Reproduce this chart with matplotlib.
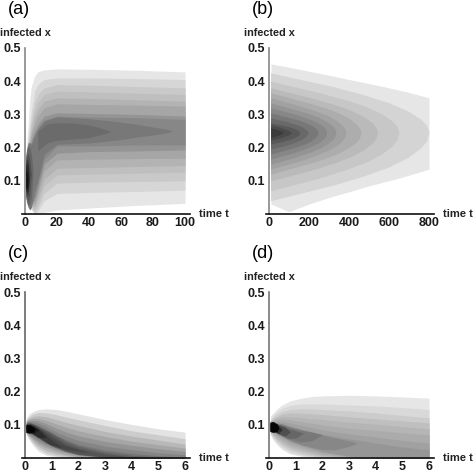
import matplotlib

matplotlib.use("Agg")
from matplotlib import pyplot as plt

plt.rcParams["font.family"] = ["Liberation Sans", "DejaVu Sans"]

SIZE = 473

# panel (a): time, band tops, band bottoms, grey level of each band
T_A = [0.5, 1, 2, 3, 4, 6, 8, 12, 20, 40, 70, 100]
UP_A = [
    [.17, .21, .27, .345, .385, .415, .428, .434, .437, .436, .433, .428],
    [.16, .19, .23, .27, .31, .37, .39, .405, .41, .41, .408, .405],
    [.155, .18, .215, .25, .285, .335, .36, .38, .39, .388, .384, .38],
    [.15, .175, .205, .235, .265, .31, .335, .36, .37, .368, .364, .36],
    [.145, .17, .20, .225, .25, .29, .315, .34, .35, .348, .344, .34],
    [.14, .165, .195, .215, .24, .27, .295, .32, .332, .33, .328, .325],
    [.135, .16, .19, .205, .225, .25, .27, .295, .305, .303, .30, .295],
    [.13, .155, .185, .20, .215, .24, .26, .283, .295, .292, .29, .285],
]
LO_A = [
    [.08, .06, .04, .025, .012, 0, 0, .005, .012, .018, .026, .032],
    [.09, .07, .05, .03, .015, 0, .008, .04, .062, .065, .068, .072],
    [.095, .08, .06, .035, .02, .005, .018, .062, .093, .096, .098, .10],
    [.098, .085, .065, .04, .025, .012, .03, .085, .118, .12, .123, .126],
    [.10, .09, .07, .045, .03, .02, .045, .105, .138, .14, .143, .146],
    [.103, .095, .075, .05, .035, .03, .06, .13, .163, .165, .167, .168],
    [.105, .10, .08, .055, .04, .04, .075, .15, .183, .188, .19, .193],
    [.108, .105, .085, .06, .05, .05, .09, .165, .205, .205, .208, .208],
]
GRAY_A = [.90, .84, .79, .75, .70, .65, .58, .53]

# noses and the dark head of (a), each with its own time points
EXTRA_T_A = [
    [2, 4, 6, 8, 12, 20, 40, 60, 70, 80, 88, 92],
    [8, 14, 20, 30, 40, 48, 54],
    [0.3, 1, 2, 3, 4, 5, 6, 7],
    [0.3, 1, 2, 3, 4, 5],
    [0.3, 1, 2, 3, 4],
    [0.3, 1, 2, 3],
    [0.3, 1, 2, 2.5],
    [0.5, 1, 1.5, 2],
]
EXTRA_UP_A = [
    [.20, .21, .235, .255, .28, .293, .287, .277, .27, .262, .256, .25],
    [.25, .272, .275, .274, .268, .258, .248],
    [.165, .195, .215, .215, .21, .20, .18, .14],
    [.16, .19, .205, .20, .18, .13],
    [.15, .175, .185, .165, .12],
    [.145, .165, .165, .12],
    [.135, .155, .145, .11],
    [.13, .13, .12, .10],
]
EXTRA_LO_A = [
    [.06, .06, .07, .10, .18, .21, .214, .224, .232, .238, .244, .25],
    [.19, .215, .222, .226, .23, .24, .248],
    [.055, .035, .02, .012, .02, .04, .08, .14],
    [.06, .04, .025, .03, .05, .13],
    [.07, .05, .04, .06, .12],
    [.075, .06, .055, .12],
    [.08, .065, .07, .11],
    [.08, .078, .08, .10],
]
EXTRA_GRAY_A = [.47, .42, .47, .40, .33, .25, .16, .07]

# panel (b): nested noses, every band has its own time points
T_B = [
    [10, 100, 200, 300, 400, 500, 600, 700, 800],
    [8, 160, 320, 480, 600, 696, 760, 788, 800],
    [8, 130, 260, 390, 488, 566, 618, 640, 650],
    [8, 109, 217, 326, 407, 472, 516, 535, 543],
    [8, 92, 184, 276, 345, 400, 437, 453, 460],
    [8, 77, 154, 231, 289, 335, 366, 379, 385],
    [8, 67, 134, 201, 251, 291, 318, 330, 335],
    [8, 58, 115, 173, 216, 251, 274, 284, 288],
    [8, 49, 98, 147, 184, 213, 233, 241, 245],
    [8, 39, 78, 117, 146, 170, 185, 192, 195],
    [8, 31, 62, 92, 115, 134, 146, 152, 154],
    [8, 40, 70, 95, 108, 112],
    [8, 30, 50, 66, 70],
]
UP_B = [
    [.452, .442, .43, .418, .405, .393, .38, .366, .35],
    [.425, .405, .384, .358, .335, .31, .285, .267, .245],
    [.40, .383, .364, .343, .323, .301, .279, .264, .245],
    [.38, .365, .349, .33, .313, .294, .275, .261, .245],
    [.365, .352, .337, .321, .305, .288, .271, .259, .245],
    [.35, .338, .326, .311, .298, .283, .268, .258, .245],
    [.335, .325, .314, .302, .29, .277, .265, .256, .245],
    [.32, .312, .303, .292, .283, .272, .262, .254, .245],
    [.305, .298, .291, .283, .275, .267, .258, .252, .245],
    [.29, .285, .28, .273, .268, .261, .255, .25, .245],
    [.275, .272, .268, .264, .26, .256, .252, .249, .245],
    [.268, .264, .258, .252, .248, .245],
    [.26, .256, .252, .248, .245],
]
LO_B = [
    [.03, .007, .03, .05, .067, .085, .10, .117, .135],
    [.04, .063, .087, .116, .142, .171, .20, .22, .245],
    [.07, .089, .11, .135, .157, .182, .206, .224, .245],
    [.10, .116, .133, .154, .172, .193, .213, .228, .245],
    [.12, .134, .149, .166, .182, .20, .217, .23, .245],
    [.135, .147, .16, .176, .19, .205, .221, .232, .245],
    [.15, .16, .172, .185, .197, .211, .224, .234, .245],
    [.165, .174, .183, .195, .205, .216, .227, .235, .245],
    [.18, .187, .195, .204, .212, .222, .231, .237, .245],
    [.195, .20, .206, .213, .22, .227, .234, .239, .245],
    [.21, .214, .218, .223, .227, .232, .237, .241, .245],
    [.222, .226, .232, .238, .242, .245],
    [.23, .234, .238, .242, .245],
]
GRAY_B = [.90, .83, .78, .73, .68, .63, .58, .53, .47, .41, .35, .29, .23]

# panel (c)
T_C = [.05, .15, .3, .5, .8, 1.2, 1.6, 2, 3, 4, 5, 6]
UP_C = [
    [.12, .132, .14, .146, .148, .146, .14, .133, .116, .101, .088, .078],
    [.115, .125, .133, .137, .136, .13, .122, .115, .098, .082, .07, .058],
    [.113, .12, .125, .127, .124, .115, .106, .098, .08, .066, .054, .042],
    [.111, .116, .119, .119, .113, .102, .091, .082, .065, .051, .04, .03],
    [.11, .113, .114, .112, .103, .089, .077, .067, .05, .038, .028, .02],
    [.108, .11, .109, .105, .094, .077, .064, .053, .036, .025, .016, .01],
    [.106, .108, .104, .098, .085, .067, .053, .041, .024, .014, .007, .003],
]
LO_C = [
    [.07, .055, .038, .02, .008, .003, 0, 0, 0, 0, 0, 0],
    [.072, .06, .044, .028, .014, .006, .002, 0, 0, 0, 0, 0],
    [.075, .065, .05, .035, .022, .012, .006, .002, 0, 0, 0, 0],
    [.077, .068, .055, .042, .03, .018, .01, .004, 0, 0, 0, 0],
    [.078, .07, .06, .048, .036, .024, .015, .008, .002, 0, 0, 0],
    [.08, .073, .065, .054, .042, .03, .02, .012, .004, 0, 0, 0],
    [.082, .076, .069, .06, .048, .035, .025, .016, .006, .002, 0, 0],
]
GRAY_C = [.89, .80, .72, .65, .58, .52, .46]

EXTRA_T_C = [
    [.05, .2, .4, .7, 1, 1.5, 2, 3, 4, 5.5],
    [.05, .2, .4, .7, 1, 1.5, 2, 3, 4.2],
    [.05, .2, .4, .7, 1, 1.5, 2.4],
    [.05, .2, .4, .6, .9, 1.4],
    [.05, .2, .35, .5, .8],
    [.05, .2, .35, .5],
    [.03, .15, .3, .38],
]
EXTRA_UP_C = [
    [.105, .106, .10, .088, .076, .052, .036, .018, .008, .001],
    [.104, .105, .098, .084, .07, .045, .03, .012, .002],
    [.103, .104, .096, .08, .063, .038, .016],
    [.102, .102, .094, .082, .06, .03],
    [.101, .101, .095, .087, .062],
    [.10, .10, .093, .085],
    [.10, .10, .094, .088],
]
EXTRA_LO_C = [
    [.083, .076, .066, .05, .036, .02, .01, .002, 0, 0],
    [.084, .077, .067, .052, .038, .023, .012, .003, .001],
    [.084, .078, .069, .054, .04, .026, .016],
    [.083, .078, .071, .058, .042, .03],
    [.08, .077, .07, .062, .062],
    [.078, .076, .075, .085],
    [.077, .075, .078, .088],
]
EXTRA_GRAY_C = [.39, .33, .28, .23, .17, .10, .02]

# panel (d)
T_D = [.05, .15, .3, .5, .8, 1.2, 1.6, 2, 3, 4, 5, 6]
UP_D = [
    [.125, .135, .148, .16, .172, .18, .185, .187, .189, .187, .184, .18],
    [.115, .128, .14, .15, .159, .163, .163, .163, .16, .157, .152, .146],
    [.113, .122, .132, .14, .146, .148, .148, .146, .142, .136, .128, .121],
    [.111, .118, .125, .132, .136, .135, .133, .131, .124, .118, .112, .106],
    [.11, .115, .12, .124, .124, .122, .118, .116, .108, .102, .095, .088],
    [.108, .112, .115, .117, .115, .11, .105, .10, .09, .083, .076, .07],
    [.106, .11, .11, .11, .105, .098, .092, .085, .073, .063, .053, .045],
    [.105, .108, .106, .103, .096, .087, .08, .072, .058, .045, .033, .025],
]
LO_D = [
    [.07, .055, .04, .025, .012, .005, .002, 0, 0, 0, 0, 0],
    [.072, .06, .045, .03, .016, .008, .003, .001, 0, 0, 0, 0],
    [.075, .065, .05, .036, .022, .012, .006, .002, 0, 0, 0, 0],
    [.077, .068, .055, .042, .028, .018, .01, .005, 0, 0, 0, 0],
    [.08, .072, .06, .048, .034, .024, .015, .008, .001, 0, 0, 0],
    [.082, .075, .065, .054, .04, .03, .02, .012, .002, 0, 0, 0],
    [.084, .078, .07, .06, .046, .036, .026, .017, .004, .001, 0, 0],
    [.086, .08, .073, .065, .052, .04, .03, .02, .006, .002, 0, 0],
]
GRAY_D = [.90, .85, .80, .75, .71, .67, .63, .59]

EXTRA_T_D = [
    [.05, .2, .5, .8, 1.2, 1.6, 2, 2.5, 3, 3.3],
    [.05, .2, .5, .8, 1.2, 1.6, 2],
    [.05, .2, .4, .7, 1, 1.3],
    [.05, .2, .4, .6, .8],
    [.05, .2, .35, .5],
    [.03, .15, .3, .38],
]
EXTRA_UP_D = [
    [.104, .106, .103, .095, .086, .078, .07, .06, .052, .045],
    [.103, .105, .10, .092, .084, .078, .07],
    [.102, .104, .098, .09, .082, .075],
    [.103, .104, .10, .094, .078],
    [.102, .103, .098, .086],
    [.108, .11, .103, .09],
]
EXTRA_LO_D = [
    [.085, .078, .064, .052, .04, .032, .026, .025, .035, .045],
    [.086, .08, .068, .056, .048, .052, .07],
    [.086, .082, .072, .06, .06, .075],
    [.083, .08, .072, .066, .078],
    [.085, .08, .074, .086],
    [.08, .077, .08, .092],
]
EXTRA_GRAY_D = [.53, .47, .40, .31, .18, .02]

Y_TICKS = [0, 0.1, 0.2, 0.3, 0.4, 0.5]
Y_LABELS = ["", "0.1", "0.2", "0.3", "0.4", "0.5"]
X_TICKS_AB = {"a": [0, 20, 40, 60, 80, 100], "b": [0, 200, 400, 600, 800]}
X_TICKS_CD = [0, 1, 2, 3, 4, 5, 6]


def draw_bands(ax, times, tops, bottoms, grays):
    for t, up, lo, gray in zip(times, tops, bottoms, grays):
        ax.fill_between(t, lo, up, color=str(gray), linewidth=0)


def make_panel(fig, name, left, bottom, tmax, xticks, axis_gray):
    # left and bottom are the pixels of the plot origin
    ax = fig.add_axes(
        [left / SIZE, 1 - bottom / SIZE, 160 / SIZE, 166 / SIZE], facecolor="none"
    )
    ax.set_xlim(0, tmax)
    ax.set_ylim(0, 0.5)
    ax.set_xticks(xticks)
    ax.set_yticks(Y_TICKS)
    ax.set_yticklabels(Y_LABELS)
    ax.tick_params(length=0, labelsize=9, pad=3)
    ax.tick_params(axis="x", pad=2)
    for label in ax.get_xticklabels() + ax.get_yticklabels():
        label.set_fontweight("bold")
        label.set_color("#1a1a1a")
    ax.spines[["top", "right"]].set_visible(False)
    ax.spines["left"].set_color(axis_gray)
    ax.spines["left"].set_linewidth(1.2)
    ax.spines["bottom"].set_color("#111111")
    ax.spines["bottom"].set_linewidth(1.2)
    ax.spines["bottom"].set_bounds(-0.02 * tmax, 1.03 * tmax)
    for spine in ax.spines.values():
        spine.set_zorder(5)

    fig.text((left - 17) / SIZE, 1 - (bottom - 205) / SIZE, f"({name})", fontsize=13,
             ha="left", va="center", fontweight="medium")
    fig.text((left - 25) / SIZE, 1 - (bottom - 181) / SIZE, "infected x", fontsize=7.8,
             ha="left", va="center", fontweight="bold", color="#222222")
    fig.text((left + 174) / SIZE, 1 - bottom / SIZE, "time t", fontsize=8,
             ha="left", va="center", fontweight="bold", color="#222222")
    return ax


def main():
    fig = plt.figure(figsize=(SIZE / 100, SIZE / 100), dpi=100, facecolor="white")

    ax = make_panel(fig, "a", 25, 214, 100, X_TICKS_AB["a"], "#888888")
    draw_bands(ax, [T_A] * len(UP_A), UP_A, LO_A, GRAY_A)
    draw_bands(ax, EXTRA_T_A, EXTRA_UP_A, EXTRA_LO_A, EXTRA_GRAY_A)

    ax = make_panel(fig, "b", 269, 214, 800, X_TICKS_AB["b"], "#888888")
    draw_bands(ax, T_B, UP_B, LO_B, GRAY_B)

    ax = make_panel(fig, "c", 25, 458, 6, X_TICKS_CD, "#666666")
    draw_bands(ax, [T_C] * len(UP_C), UP_C, LO_C, GRAY_C)
    draw_bands(ax, EXTRA_T_C, EXTRA_UP_C, EXTRA_LO_C, EXTRA_GRAY_C)

    ax = make_panel(fig, "d", 269, 458, 6, X_TICKS_CD, "#777777")
    draw_bands(ax, [T_D] * len(UP_D), UP_D, LO_D, GRAY_D)
    draw_bands(ax, EXTRA_T_D, EXTRA_UP_D, EXTRA_LO_D, EXTRA_GRAY_D)

    fig.savefig("out.png", dpi=100)
    plt.close(fig)


if __name__ == "__main__":
    main()
